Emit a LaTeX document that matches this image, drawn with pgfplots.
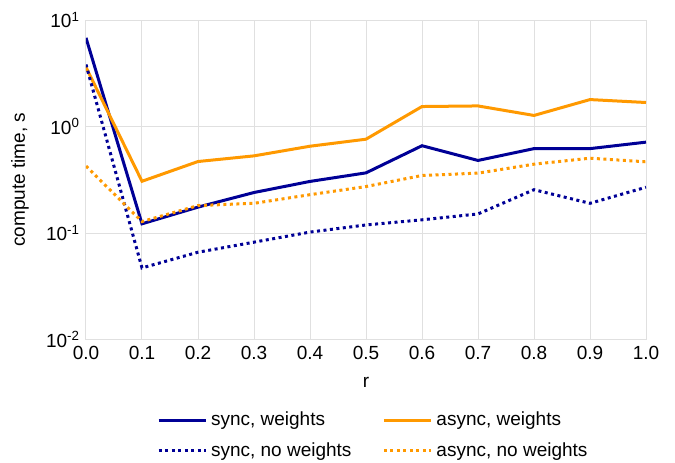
\documentclass[border=0pt]{standalone}
\usepackage{pgfplots}
\pgfplotsset{compat=1.18}
\usepackage{fontspec}
\setmainfont{Liberation Sans}
\definecolor{navyc}{RGB}{0,0,150}
\definecolor{orangec}{RGB}{255,153,0}
\definecolor{gridc}{RGB}{224,224,224}
\begin{document}
\fontsize{19}{22}\selectfont
\begin{tikzpicture}
\useasboundingbox (-86pt,-123pt) rectangle (589pt,339.5pt);
\begin{axis}[
  at={(0pt,0pt)}, anchor=south west,
  scale only axis, width=560pt, height=319.5pt,
  ymode=log, xmin=0, xmax=1, ymin=0.01, ymax=10,
  xtick={0,0.1,...,1.0},
  xticklabel style={/pgf/number format/.cd, fixed, fixed zerofill, precision=1},
  /pgf/number format/assume math mode=true,
  ytick={0.01,0.1,1,10},
  yticklabels={10\textsuperscript{-2},10\textsuperscript{-1},10\textsuperscript{0},10\textsuperscript{1}},
  tick style={draw=none},
  grid=major,
  major grid style={gridc, line width=1pt},
  axis line style={gridc, line width=1pt},
  ticklabel style={font=\fontsize{19}{22}\selectfont},
  xlabel={r},
  ylabel={compute time, s},
  label style={font=\fontsize{19}{22}\selectfont},
  xlabel style={at={(axis description cs:0.5,0)}, yshift=-43pt, anchor=center},
  ylabel style={at={(axis description cs:-0.118,0.5)}, anchor=center},
  legend columns=2,
  legend cell align=left,
  legend style={at={(axis description cs:0.513,-0.30)}, anchor=center, draw=none,
     font=\fontsize{19}{22}\selectfont,
     /tikz/every odd column/.append style={column sep=2pt},
     /tikz/every even column/.append style={column sep=29pt},
     /tikz/row sep=10pt},
  legend image code/.code={\draw[#1] (0pt,0pt) -- (47pt,0pt);},
]
\addplot[navyc, line width=3pt] coordinates {
 (0,6.8) (0.1,0.122) (0.2,0.175) (0.3,0.24) (0.4,0.305) (0.5,0.367) (0.6,0.66) (0.7,0.48) (0.8,0.62) (0.9,0.62) (1.0,0.713)};
\addlegendentry{sync, weights}
\addplot[orangec, line width=3pt] coordinates {
 (0,3.6) (0.1,0.306) (0.2,0.469) (0.3,0.53) (0.4,0.653) (0.5,0.76) (0.6,1.54) (0.7,1.56) (0.8,1.27) (0.9,1.79) (1.0,1.68)};
\addlegendentry{async, weights}
\addplot[navyc, line width=3pt, dash pattern=on 3pt off 3.5pt] coordinates {
 (0,3.82) (0.1,0.047) (0.2,0.066) (0.3,0.082) (0.4,0.102) (0.5,0.119) (0.6,0.133) (0.7,0.151) (0.8,0.255) (0.9,0.19) (1.0,0.269)};
\addlegendentry{sync, no weights}
\addplot[orangec, line width=3pt, dash pattern=on 3pt off 3.5pt] coordinates {
 (0,0.425) (0.1,0.128) (0.2,0.181) (0.3,0.19) (0.4,0.229) (0.5,0.273) (0.6,0.347) (0.7,0.365) (0.8,0.443) (0.9,0.504) (1.0,0.466)};
\addlegendentry{async, no weights}
\end{axis}
\end{tikzpicture}
\end{document}
